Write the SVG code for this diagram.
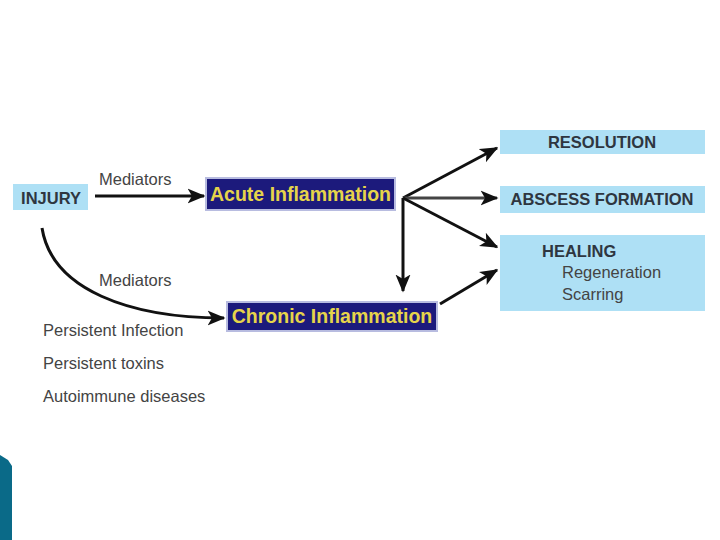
<svg xmlns="http://www.w3.org/2000/svg" width="720" height="540" viewBox="0 0 720 540">
<style>
.lb{fill:#aee0f5}
.nv{fill:#1c1a7c;stroke:#b8bce0;stroke-width:2}
.bt{font-family:"Liberation Sans",Arial,sans-serif;font-weight:bold;font-size:16.5px;fill:#2e3640}
.yt{font-family:"Liberation Sans",Arial,sans-serif;font-weight:bold;font-size:19.5px;fill:#e6d44a}
.gt{font-family:"Liberation Sans",Arial,sans-serif;font-size:16.5px;fill:#444}
.ln{fill:none;stroke:#111;stroke-width:3}
</style>
<defs>
<marker id="ah" viewBox="0 0 12 10" refX="11" refY="5" markerWidth="6" markerHeight="6" markerUnits="strokeWidth" orient="auto">
<path d="M0,0 L12,5 L0,10 L3,5 Z" fill="#111"/>
</marker>
</defs>
<rect width="720" height="540" fill="#fff"/>
<polygon points="0,455 8,460 12,466 12,540 0,540" fill="#0a6a88"/>
<g id="connectors">
<line class="ln" x1="95" y1="196" x2="204" y2="196" marker-end="url(#ah)"/>
<path class="ln" d="M42,228 C52,290 130,318 224,318" marker-end="url(#ah)"/>
<line class="ln" x1="403" y1="198" x2="497" y2="148" marker-end="url(#ah)"/>
<line class="ln" x1="403" y1="198" x2="497" y2="198" marker-end="url(#ah)" style="stroke:#444"/>
<line class="ln" x1="403" y1="198" x2="497" y2="247" marker-end="url(#ah)"/>
<line class="ln" x1="403" y1="198" x2="403" y2="291" marker-end="url(#ah)"/>
<line class="ln" x1="440" y1="304" x2="497" y2="270" marker-end="url(#ah)"/>
<text class="gt" x="99" y="185">Mediators</text>
<text class="gt" x="99" y="286">Mediators</text>
</g>
<g id="injury">
<rect class="lb" x="13" y="184" width="75" height="26"/>
<text class="bt" x="51" y="204" text-anchor="middle">INJURY</text>
</g>
<g id="acute">
<rect class="nv" x="206" y="178" width="189" height="32"/>
<text class="yt" x="300.5" y="201" text-anchor="middle">Acute Inflammation</text>
</g>
<g id="chronic">
<rect class="nv" x="227" y="302" width="210" height="29"/>
<text class="yt" x="332" y="323" text-anchor="middle">Chronic Inflammation</text>
</g>
<g id="resolution">
<rect class="lb" x="500" y="130" width="205" height="24"/>
<text class="bt" x="602" y="148" text-anchor="middle">RESOLUTION</text>
</g>
<g id="abscess">
<rect class="lb" x="500" y="186" width="205" height="27"/>
<text class="bt" x="602" y="205" text-anchor="middle">ABSCESS FORMATION</text>
</g>
<g id="healing">
<rect class="lb" x="500" y="235" width="205" height="76"/>
<text class="bt" x="542" y="257">HEALING</text>
<text class="gt" x="562" y="278">Regeneration</text>
<text class="gt" x="562" y="300">Scarring</text>
</g>
<g id="causes">
<text class="gt" x="43" y="336">Persistent Infection</text>
<text class="gt" x="43" y="369">Persistent toxins</text>
<text class="gt" x="43" y="402">Autoimmune diseases</text>
</g>
</svg>
